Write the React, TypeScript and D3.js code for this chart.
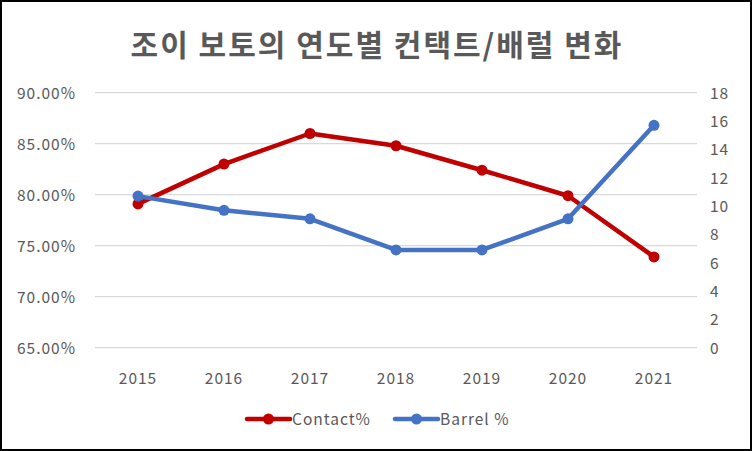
import React, { useEffect, useRef } from "react";
import * as d3 from "d3";

const years = ["2015", "2016", "2017", "2018", "2019", "2020", "2021"];
const contactPct = [79.1, 83.0, 86.0, 84.8, 82.4, 79.9, 73.9];
const barrelPct = [10.7, 9.7, 9.1, 6.9, 6.9, 9.1, 15.7];
const leftTicks = [65, 70, 75, 80, 85, 90];
const rightTicks = [0, 2, 4, 6, 8, 10, 12, 14, 16, 18];
const title = "조이 보토의 연도별 컨택트/배럴 변화";

const W = 752;
const H = 451;
const RED = "#C00000";
const BLUE = "#4472C4";
const TEXT = "#595959";
const FONT = "'Noto Sans CJK KR', 'Noto Sans', sans-serif";

export default function App() {
  const svgRef = useRef<SVGSVGElement>(null);

  useEffect(() => {
    document.body.style.margin = "0";
    if (!svgRef.current) return;
    const svg = d3.select(svgRef.current);
    svg.selectAll("*").remove();

    const plot = { left: 95, right: 697, top: 92.7, bottom: 347.7 };

    const x = d3.scaleBand<string>().domain(years).range([plot.left, plot.right]);
    const yL = d3.scaleLinear().domain([65, 90]).range([plot.bottom, plot.top]);
    const yR = d3.scaleLinear().domain([0, 18]).range([plot.bottom, plot.top]);
    const cx = (d: string) => (x(d) ?? 0) + x.bandwidth() / 2;

    // frame
    svg
      .append("rect")
      .attr("x", 1)
      .attr("y", 1)
      .attr("width", W - 2)
      .attr("height", H - 2)
      .attr("fill", "#fff")
      .attr("stroke", "#000")
      .attr("stroke-width", 2);

    svg
      .append("text")
      .attr("x", W / 2 + 1)
      .attr("y", 56)
      .attr("text-anchor", "middle")
      .attr("font-family", FONT)
      .attr("font-size", 30)
      .attr("font-weight", 700)
      .attr("letter-spacing", 2)
      .attr("fill", TEXT)
      .text(title);

    // gridlines
    svg
      .append("g")
      .selectAll("line")
      .data(leftTicks)
      .join("line")
      .attr("x1", plot.left)
      .attr("x2", plot.right)
      .attr("y1", (d) => yL(d))
      .attr("y2", (d) => yL(d))
      .attr("stroke", "#d9d9d9")
      .attr("stroke-width", 1.3);

    const tickText = (sel: d3.Selection<any, any, any, any>) =>
      sel
        .attr("font-family", FONT)
        .attr("font-size", 15.5)
        .attr("letter-spacing", 1)
        .attr("fill", TEXT);

    svg
      .append("g")
      .selectAll("text")
      .data(leftTicks)
      .join("text")
      .attr("x", 76)
      .attr("y", (d) => yL(d) + 6)
      .attr("text-anchor", "end")
      .call(tickText)
      .text((d) => d.toFixed(2) + "%");

    svg
      .append("g")
      .selectAll("text")
      .data(rightTicks)
      .join("text")
      .attr("x", 710)
      .attr("y", (d) => yR(d) + 6)
      .attr("text-anchor", "start")
      .call(tickText)
      .text((d) => String(d));

    svg
      .append("g")
      .selectAll("text")
      .data(years)
      .join("text")
      .attr("x", (d) => cx(d))
      .attr("y", 384)
      .attr("text-anchor", "middle")
      .call(tickText)
      .text((d) => d);

    const series = [
      { name: "Contact%", color: RED, vals: contactPct, y: yL },
      { name: "Barrel %", color: BLUE, vals: barrelPct, y: yR },
    ];

    series.forEach((s) => {
      const line = d3
        .line<number>()
        .x((_, i) => cx(years[i]))
        .y((v) => s.y(v));
      svg
        .append("path")
        .attr("d", line(s.vals))
        .attr("fill", "none")
        .attr("stroke", s.color)
        .attr("stroke-width", 4.5)
        .attr("stroke-linejoin", "round")
        .attr("stroke-linecap", "round");
      svg
        .append("g")
        .selectAll("circle")
        .data(s.vals)
        .join("circle")
        .attr("cx", (_, i) => cx(years[i]))
        .attr("cy", (v) => s.y(v))
        .attr("r", 5.5)
        .attr("fill", s.color);
    });

    // legend
    const legendX = [247, 395];
    const ly = 419;
    series.forEach((s, i) => {
      const g = svg.append("g").attr("transform", `translate(${legendX[i]},${ly})`);
      g.append("line")
        .attr("x1", 0)
        .attr("x2", 43)
        .attr("stroke", s.color)
        .attr("stroke-width", 4.5)
        .attr("stroke-linecap", "round");
      g.append("circle").attr("cx", 21.5).attr("r", 5.5).attr("fill", s.color);
      g.append("text")
        .attr("x", 45)
        .attr("y", 6)
        .call(tickText)
        .text(s.name);
    });
  }, []);

  return <svg ref={svgRef} width={W} height={H} style={{ display: "block" }} />;
}
